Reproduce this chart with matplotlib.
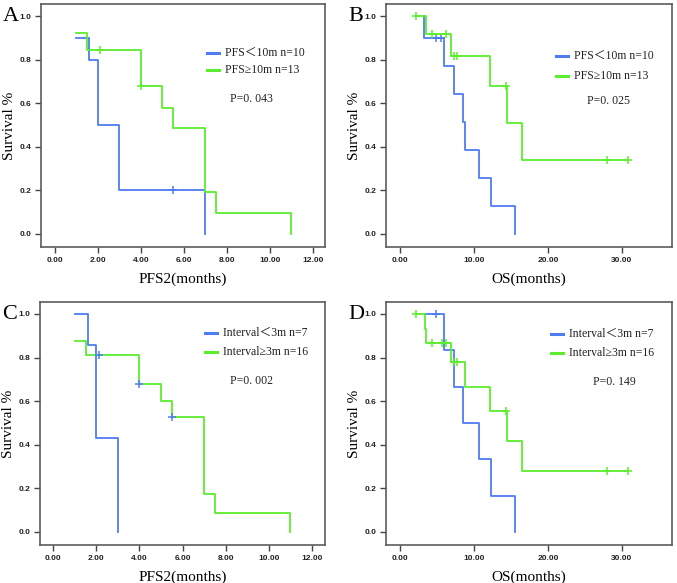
import numpy as np
import matplotlib.pyplot as plt

# ---- data (step curves: time, survival after step) ----
# A: PFS2, grouped by PFS
a_blue_t = [1.0, 1.6, 2.0, 3.0, 7.0]
a_blue_s = [0.9, 0.8, 0.5, 0.2, 0.0]
a_blue_start = (1.0, 0.9)
a_blue_cens = [5.5]
a_green_t = [1.5, 4.0, 5.0, 5.5, 7.0, 7.5, 11.0]
a_green_s = [0.846, 0.677, 0.580, 0.484, 0.194, 0.097, 0.0]
a_green_start = (1.0, 0.923)
a_green_cens = [2.1, 4.0]

# B: OS, grouped by PFS
b_blue_t = [3.2, 5.9, 7.3, 8.5, 8.8, 10.7, 12.3, 15.5]
b_blue_s = [0.9, 0.771, 0.643, 0.514, 0.386, 0.257, 0.129, 0.0]
b_blue_start = (3.2, 1.0)
b_blue_cens = [4.8, 5.5]
b_green_t = [3.5, 6.8, 12.1, 14.5, 16.5]
b_green_s = [0.917, 0.815, 0.679, 0.509, 0.339]
b_green_start = (2.1, 1.0)
b_green_cens = [2.1, 4.3, 6.2, 7.2, 7.7, 14.3, 28.0, 30.8]
b_green_end = 30.8

# C: PFS2, grouped by interval
c_blue_t = [1.6, 2.0, 3.0]
c_blue_s = [0.857, 0.429, 0.0]
c_blue_start = (1.0, 1.0)
c_blue_cens = []
c_green_t = [1.5, 4.0, 5.0, 5.5, 7.0, 7.5, 11.0]
c_green_s = [0.8125, 0.677, 0.602, 0.527, 0.176, 0.088, 0.0]
c_green_start = (1.0, 0.875)
c_green_cens = [2.1, 4.0, 5.5]

# D: OS, grouped by interval
d_blue_t = [5.9, 7.3, 8.5, 10.7, 12.3, 15.5]
d_blue_s = [0.833, 0.667, 0.5, 0.333, 0.167, 0.0]
d_blue_start = (3.3, 1.0)
d_blue_cens = [4.8]
d_green_t = [3.3, 3.5, 6.8, 8.8, 12.1, 14.5, 16.5]
d_green_s = [0.933, 0.867, 0.780, 0.667, 0.556, 0.417, 0.278]
d_green_start = (2.1, 1.0)
d_green_cens = [2.1, 4.3, 5.6, 6.2, 7.2, 7.7, 14.3, 28.0, 30.8]
d_green_end = 30.8

labels_pfs = ["PFS＜10m n=10", "PFS≥10m n=13"]
labels_int = ["Interval＜3m n=7", "Interval≥3m n=16"]
pvals = ["P=0. 043", "P=0. 025", "P=0. 002", "P=0. 149"]

BLUE = '#4f7cf2'
GREEN = '#5ced2e'
SERIF = ['Liberation Serif', 'Noto Sans CJK SC', 'DejaVu Serif']


def km_xy(start, t, s, end=None):
    xs = [start[0]]
    ys = [start[1]]
    cur = start[1]
    for ti, si in zip(t, s):
        xs += [ti, ti]
        ys += [cur, si]
        cur = si
    if end is not None and end > xs[-1]:
        xs.append(end)
        ys.append(cur)
    return np.array(xs), np.array(ys)


def surv_at(start, t, s, x):
    cur = start[1]
    for ti, si in zip(t, s):
        if x >= ti:
            cur = si
    return cur


def draw(ax, blue, green, mcol_g):
    for (start, t, s, cens, end), col, mc in [(blue, BLUE, BLUE), (green, GREEN, mcol_g)]:
        xs, ys = km_xy(start, t, s, end)
        ax.plot(xs, ys, color=col, lw=1.3)
        for c in cens:
            ax.plot(c, surv_at(start, t, s, c), marker='+', ms=6, mew=1.1, color=mc, ls='none')


fig = plt.figure(figsize=(6.77, 5.83), dpi=100)
panels = [
    ('A', [0.0606, 0.5763, 0.4195, 0.4168], (-0.65, 12.56), np.arange(0, 13, 2), 'PFS2(months)',
     (a_blue_start, a_blue_t, a_blue_s, a_blue_cens, None),
     (a_green_start, a_green_t, a_green_s, a_green_cens, None), GREEN, labels_pfs,
     (0.585, 0.80, 0.727), (0.665, 0.61)),
    ('B', [0.5702, 0.5763, 0.4225, 0.4168], (-1.94, 36.8), np.arange(0, 31, 10), 'OS(months)',
     (b_blue_start, b_blue_t, b_blue_s, b_blue_cens, None),
     (b_green_start, b_green_t, b_green_s, b_green_cens, b_green_end), GREEN, labels_pfs,
     (0.594, 0.786, 0.704), (0.703, 0.60)),
    ('C', [0.0591, 0.0652, 0.421, 0.4168], (-0.62, 12.62), np.arange(0, 13, 2), 'PFS2(months)',
     (c_blue_start, c_blue_t, c_blue_s, c_blue_cens, None),
     (c_green_start, c_green_t, c_green_s, c_green_cens, None), BLUE, labels_int,
     (0.58, 0.872, 0.794), (0.667, 0.675)),
    ('D', [0.5702, 0.0652, 0.4225, 0.4168], (-1.94, 36.8), np.arange(0, 31, 10), 'OS(months)',
     (d_blue_start, d_blue_t, d_blue_s, d_blue_cens, None),
     (d_green_start, d_green_t, d_green_s, d_green_cens, d_green_end), GREEN, labels_int,
     (0.577, 0.868, 0.79), (0.724, 0.67)),
]

for i, (letter, rect, xlim, xt, xlabel, blue, green, mcg, labs, leg, ppos) in enumerate(panels):
    ax = fig.add_axes(rect)
    draw(ax, blue, green, mcg)
    ax.set_xlim(*xlim)
    ax.set_ylim(-0.06, 1.055)
    ax.set_xticks(xt)
    ax.set_xticklabels(['%.2f' % v for v in xt])
    ax.set_yticks(np.arange(0, 1.01, 0.2))
    ax.set_yticklabels(['%.1f' % v for v in np.arange(0, 1.01, 0.2)])
    ax.tick_params(direction='out', length=4.5, width=1, colors='#444444', labelsize=6,
                   labelcolor='#222222', pad=2.5)
    for lab in ax.get_xticklabels() + ax.get_yticklabels():
        lab.set_family('Liberation Sans')
        lab.set_weight('bold')
    for sp in ax.spines.values():
        sp.set_color('#5c5c5c')
        sp.set_linewidth(1.2)
    ax.set_xlabel(xlabel, family=SERIF, fontsize=11, labelpad=6)
    ax.set_ylabel('Survival %', family=SERIF, fontsize=11)
    ax.yaxis.set_label_coords(-25 / (rect[2] * 677), 0.5)
    # legend drawn by hand like SPSS does
    lx, ly1, ly2 = leg
    for ly, col, lab in [(ly1, BLUE, labs[0]), (ly2, GREEN, labs[1])]:
        ax.plot([lx, lx + 0.042], [ly, ly], color=col, lw=2.2, transform=ax.transAxes, clip_on=False)
        ax.text(lx + 0.062, ly, lab, transform=ax.transAxes, family=SERIF, fontsize=8.5,
                va='center', ha='left', color='#222222')
    ax.text(ppos[0], ppos[1], pvals[i], transform=ax.transAxes, family=SERIF, fontsize=8.5,
            va='center', ha='left', color='#222222')
    fig.text(rect[0] - 0.056, rect[1] + rect[3] - 0.005, letter, family=SERIF, fontsize=16,
             va='top', ha='left')

fig.savefig('out.png', dpi=100)
